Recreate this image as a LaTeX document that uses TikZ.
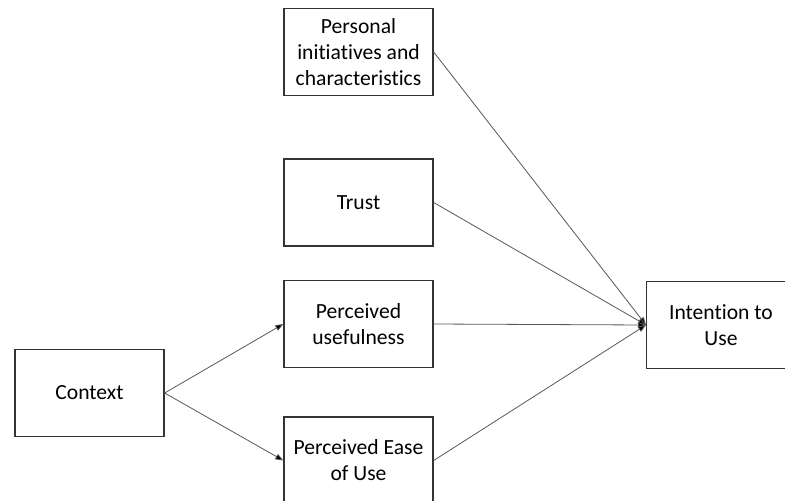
\documentclass[tikz,border=0pt]{standalone}
\usepackage{fontspec}
\setmainfont[Ligatures=NoCommon]{Carlito}
\usetikzlibrary{arrows.meta}
\begin{document}
\begin{tikzpicture}[x=0.75pt,y=-0.75pt,
  box/.style={draw=black!80, line width=1pt, fill=white, rectangle, inner sep=0pt,
    minimum width=111.75pt, minimum height=65.25pt, align=center,
    font=\fontsize{16.2}{19.5}\selectfont},
  link/.style={draw=black!65, line width=0.6pt, -{Triangle[length=6pt,width=4.5pt,fill=black]}}
]
\path[use as bounding box, clip] (0,0) rectangle (785,500);
\fill[white] (0,0) rectangle (785,500);

% factor boxes
\node[box] (pers)   at (358.5,52)  {Personal\\initiatives and\\characteristics};
\node[box] (trust)  at (358.5,202.5) {Trust};
\node[box] (useful) at (358.5,324) {Perceived\\usefulness};
\node[box] (ease)   at (358.5,460.5) {Perceived Ease\\of Use};
\node[box] (ctx)    at (89.5,393)  {Context};
\node[box] (intent) at (721,325)   {Intention to\\Use};

% connectors into the outcome
\coordinate (tip) at (646,325);
\draw[link] (pers.east)   -- (tip);
\draw[link] (trust.east)  -- (tip);
\draw[link] (useful.east) -- (tip);
\draw[link] (ease.east)   -- (tip);

% context drives the two perceptions
\draw[link] (ctx.east) -- (useful.west);
\draw[link] (ctx.east) -- (ease.west);
\end{tikzpicture}
\end{document}
